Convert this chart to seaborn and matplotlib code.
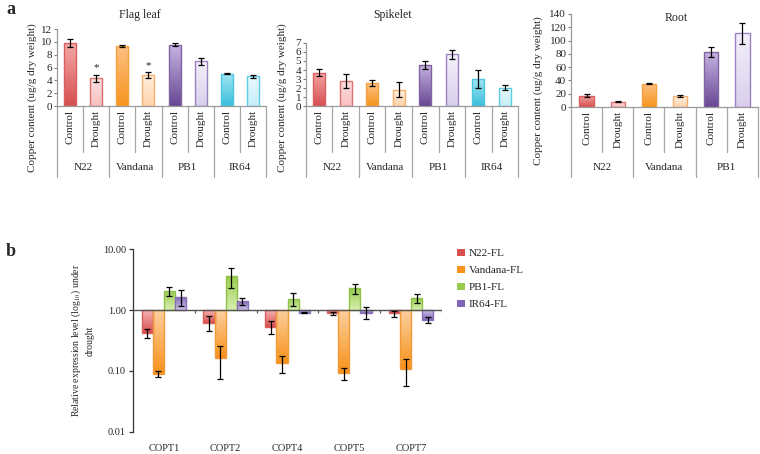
import numpy as np
import pandas as pd
import seaborn as sns
import matplotlib.pyplot as plt
import matplotlib.transforms as mtransforms
from matplotlib.colors import LinearSegmentedColormap
from matplotlib.patches import Patch

# ---- panel a data (copper content, ug/g dry weight) ----
CONDITIONS = ["Control", "Drought"]
GENOS_4 = ["N22", "Vandana", "PB1", "IR64"]
GENOS_3 = ["N22", "Vandana", "PB1"]

LEAF_MEAN = [9.78, 4.35, 9.42, 4.80, 9.57, 6.98, 5.02, 4.60]
LEAF_ERR = [0.60, 0.55, 0.15, 0.45, 0.20, 0.55, 0.10, 0.20]
LEAF_SIG = ["", "*", "", "*", "", "", "", ""]

SPIKE_MEAN = [3.70, 2.80, 2.55, 1.83, 4.60, 5.73, 3.00, 2.02]
SPIKE_ERR = [0.42, 0.75, 0.33, 0.80, 0.45, 0.49, 1.03, 0.26]

ROOT_MEAN = [17.1, 8.0, 34.7, 16.1, 83.0, 110.8]
ROOT_ERR = [2.0, 0.8, 0.7, 1.5, 7.0, 16.0]

# ---- panel b data (relative expression under drought) ----
GENES = ["COPT1", "COPT2", "COPT4", "COPT5", "COPT7"]
LINES = ["N22-FL", "Vandana-FL", "PB1-FL", "IR64-FL"]
EXPR = {
    "N22-FL": [0.42, 0.62, 0.53, 0.88, 0.88],
    "Vandana-FL": [0.089, 0.165, 0.134, 0.091, 0.106],
    "PB1-FL": [2.05, 3.60, 1.53, 2.27, 1.55],
    "IR64-FL": [1.65, 1.40, 0.90, 0.90, 0.69],
}
EXPR_ERR = {
    "N22-FL": [0.07, 0.17, 0.13, 0.06, 0.10],
    "Vandana-FL": [0.010, 0.09, 0.04, 0.019, 0.05],
    "PB1-FL": [0.35, 1.30, 0.36, 0.42, 0.25],
    "IR64-FL": [0.50, 0.18, 0.02, 0.20, 0.08],
}

# colours: (far end, base, edge) per genotype and condition
GENO_STYLE = {
    "N22": [("#f4a7a7", "#d64f4f", "#d9605f"), ("#fde0e0", "#f8c0c0", "#dc7070")],
    "Vandana": [("#fcc184", "#f7941d", "#f7a040"), ("#fff0e0", "#fdd3aa", "#f8b070")],
    "PB1": [("#c7b4e2", "#684894", "#8064a2"), ("#f4f0fa", "#d9cfec", "#9a82c0")],
    "IR64": [("#a2e5f4", "#3cbfdb", "#4bc6e0"), ("#e8f9fd", "#c6eef8", "#5ccde4")],
}
LINE_STYLE = {
    "N22-FL": ("#d94f4f", "#f6b3b3", "#d9605f"),
    "Vandana-FL": ("#f7921a", "#fcd0a0", "#f29a3a"),
    "PB1-FL": ("#98cc4e", "#d8f0b0", "#8fc04a"),
    "IR64-FL": ("#8066b4", "#cfc2ea", "#8a72bb"),
}

sns.set_theme(style="white")
plt.rcParams["font.family"] = ["Liberation Serif", "DejaVu Serif"]
plt.rcParams["mathtext.fontset"] = "stix"

fig = plt.figure(figsize=(7.6, 4.54), dpi=100)


def shade(ax, patch, far, base, edge):
    # vertical gradient fill clipped to a bar, base colour at the bar's origin
    x0, y0 = patch.get_x(), patch.get_y()
    w, h = patch.get_width(), patch.get_height()
    cmap = LinearSegmentedColormap.from_list("g", [base, far])
    grad = np.linspace(0, 1, 64).reshape(-1, 1)
    im = ax.imshow(grad, extent=(x0, x0 + w, y0, y0 + h), origin="lower",
                   cmap=cmap, aspect="auto", zorder=patch.get_zorder() - 0.1)
    im.set_clip_path(patch)
    patch.set_facecolor("none")
    patch.set_edgecolor(edge)
    patch.set_linewidth(1.0)


def cu_panel(rect, genos, means, errs, ymax, ystep, ylab_xy, sig=None):
    ax = fig.add_axes(rect)
    names = [f"{g} {c}" for g in genos for c in CONDITIONS]
    df = pd.DataFrame({"bar": names, "cu": means})
    styles = [GENO_STYLE[g][k] for g in genos for k in range(2)]
    sns.barplot(data=df, x="bar", y="cu", hue="bar", palette=[s[1] for s in styles],
                legend=False, width=0.46, errorbar=None, ax=ax)
    for patch, st in zip(ax.patches, styles):
        shade(ax, patch, *st)
    ax.errorbar(np.arange(len(names)), means, yerr=errs, fmt="none",
                ecolor="black", elinewidth=0.9, capsize=2.5, capthick=0.9, zorder=5)
    if sig:
        for i, s in enumerate(sig):
            if s:
                ax.text(i, means[i] + errs[i] + ymax * 0.03, s, ha="center",
                        va="bottom", fontsize=8)
    ax.set_xlim(-0.5, len(names) - 0.5)
    ax.set_ylim(0, ymax)
    ax.set_yticks(np.arange(0, ymax + 0.1, ystep))
    ax.tick_params(axis="y", labelsize=8, length=2.5, width=0.8, color="#808080",
                   direction="out", pad=1, left=True)
    ax.set_xticks(np.arange(len(names)))
    ax.set_xticklabels(CONDITIONS * len(genos), rotation=90, fontsize=8)
    ax.tick_params(axis="x", length=0, pad=3)
    ax.set_xlabel("")
    ax.set_ylabel("Copper content (ug/g dry weight)", fontsize=8)
    ax.yaxis.set_label_coords(*ylab_xy)
    for side in ["top", "right"]:
        ax.spines[side].set_visible(False)
    for side in ["left", "bottom"]:
        ax.spines[side].set_color("#9a9a9a")
        ax.spines[side].set_linewidth(0.9)
    # two-level category axis: separators and genotype names
    trans = mtransforms.blended_transform_factory(ax.transData, fig.transFigure)
    y_axis = rect[1]
    for k in range(len(names) + 1):
        xb = k - 0.5
        y_end = 0.610 if k % 2 == 0 else 0.665
        ax.plot([xb, xb], [y_axis, y_end], transform=trans, color="#a6a6a6",
                lw=0.9, clip_on=False)
    for i, g in enumerate(genos):
        ax.text(2 * i + 0.5, 0.632, g, transform=trans, ha="center", va="center",
                fontsize=8)
    return ax


cu_panel([0.075, 0.7665, 0.275, 0.1696], GENOS_4, LEAF_MEAN, LEAF_ERR, 12, 2,
         (-0.095, 0.11), sig=LEAF_SIG)
cu_panel([0.4026, 0.7665, 0.279, 0.1388], GENOS_4, SPIKE_MEAN, SPIKE_ERR, 7, 1,
         (-0.09, 0.14))
cu_panel([0.7513, 0.7643, 0.246, 0.2049], GENOS_3, ROOT_MEAN, ROOT_ERR, 140, 20,
         (-0.15, 0.18))

fig.text(140 / 760, 1 - 15 / 454, "Flag leaf", ha="center", va="center", fontsize=8.5)
fig.text(393 / 760, 1 - 15 / 454, "Spikelet", ha="center", va="center", fontsize=8.5)
fig.text(676 / 760, 1 - 18 / 454, "Root", ha="center", va="center", fontsize=8.5)
fig.text(0.008, 1 - 10 / 454, "a", fontsize=13, fontweight="bold", va="center")
fig.text(0.008, 1 - 252 / 454, "b", fontsize=13, fontweight="bold", va="center")

# ---- panel b ----
rows = []
for ln in LINES:
    for g, v, e in zip(GENES, EXPR[ln], EXPR_ERR[ln]):
        rows.append({"gene": g, "line": ln, "value": v, "err": e})
dfb = pd.DataFrame(rows)
dfb["log"] = np.log10(dfb["value"])
dfb["lo"] = dfb["log"] - np.log10(dfb["value"] - dfb["err"])
dfb["hi"] = np.log10(dfb["value"] + dfb["err"]) - dfb["log"]

axb = fig.add_axes([0.175, 0.0485, 0.4066, 0.403])
sns.barplot(data=dfb, x="gene", y="log", hue="line", hue_order=LINES, order=GENES,
            palette=[LINE_STYLE[l][0] for l in LINES], width=0.72, errorbar=None,
            legend=False, ax=axb)
bar_patches = list(axb.patches)
xs, ys, lo, hi = [], [], [], []
for k, patch in enumerate(bar_patches):
    j, i = divmod(k, len(GENES))
    row = dfb[(dfb["line"] == LINES[j]) & (dfb["gene"] == GENES[i])].iloc[0]
    shade(axb, patch, *LINE_STYLE[LINES[j]])
    xs.append(patch.get_x() + patch.get_width() / 2)
    ys.append(row["log"])
    lo.append(row["lo"])
    hi.append(row["hi"])
axb.errorbar(xs, ys, yerr=[lo, hi], fmt="none", ecolor="black", elinewidth=0.9,
             capsize=2.5, capthick=0.9, zorder=5)
axb.set_xlim(-0.5, len(GENES) - 0.5)
axb.set_ylim(-2, 1)
axb.set_yticks([-2, -1, 0, 1])
axb.set_yticklabels(["0.01", "0.10", "1.00", "10.00"])
axb.axhline(0, color="#555555", lw=1.0, zorder=4)
axb.vlines(np.arange(len(GENES) + 1) - 0.5, -0.05, 0, color="#555555", lw=0.9, zorder=4)
axb.tick_params(axis="y", labelsize=7.5, length=3, width=0.9, color="#333333",
                direction="out", left=True, pad=2)
axb.tick_params(axis="x", labelsize=7.5, length=0, pad=9)
axb.set_xlabel("")
axb.set_ylabel("Relative expression level (log$_{10}$) under\ndrought", fontsize=7,
               linespacing=1.35, multialignment="center")
axb.yaxis.set_label_coords(-0.125, 0.5)
for side in ["top", "right", "bottom"]:
    axb.spines[side].set_visible(False)
axb.spines["left"].set_color("#333333")
axb.spines["left"].set_linewidth(0.9)

handles = [Patch(facecolor=LINE_STYLE[l][0], edgecolor="none") for l in LINES]
fig.legend(handles, LINES, loc="upper left", bbox_to_anchor=(0.596, 0.462),
           frameon=False, fontsize=8, handlelength=0.7, handleheight=0.7,
           handletextpad=0.3, labelspacing=0.65, borderaxespad=0)

fig.savefig("out.png", dpi=100)
